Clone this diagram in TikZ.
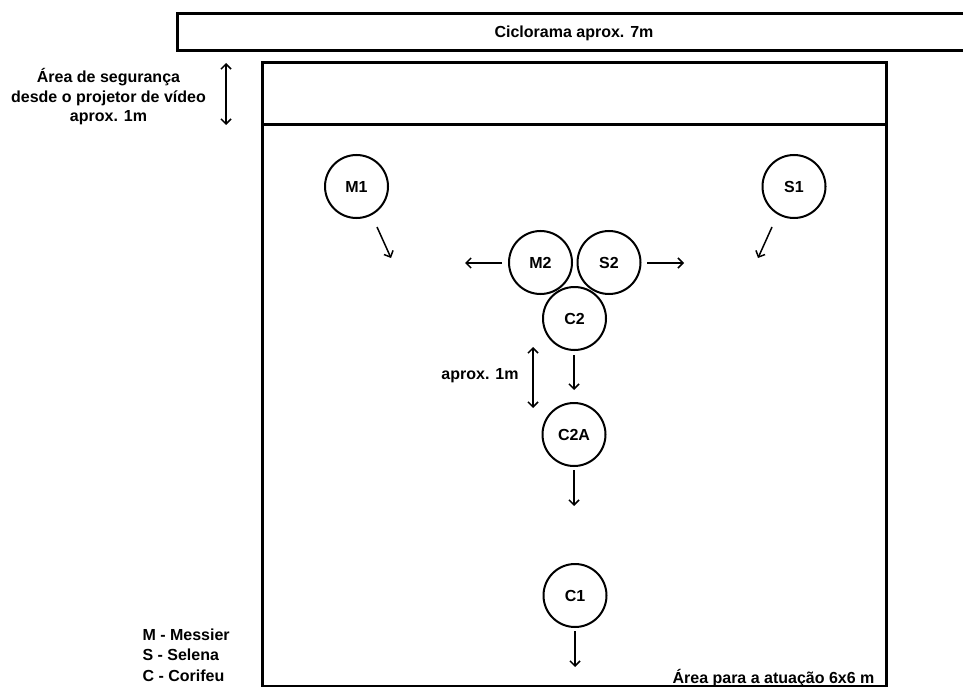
\documentclass[tikz,border=0pt]{standalone}
\usepackage{fontspec}
\setmainfont{Liberation Sans}
\usetikzlibrary{arrows.meta}
\begin{document}
\begin{tikzpicture}[x=1pt,y=-1pt,
  every node/.style={font=\fontsize{16}{19.5}\selectfont\bfseries},
  frame/.style={line width=3pt},
  actor/.style={circle,draw,line width=2pt,minimum size=63pt,inner sep=0pt},
  mv/.style={line width=1.5pt,-{Straight Barb[length=5pt,width=10pt]}},
  dim/.style={line width=1.5pt,{Straight Barb[length=5pt,width=10pt]}-{Straight Barb[length=5pt,width=10pt]}}]
\useasboundingbox (0,0) rectangle (963,687);
% ciclorama
\draw[frame] (965,14) -- (177,14) -- (177,51) -- (965,51);
\node (cic) at (574,33) {Ciclorama aprox. 7m};
% stage
\draw[frame] (262,63) rectangle (886,686);
\draw[frame] (262,125) -- (886,125);
\coordinate (sa) at (226,63);
\coordinate (sb) at (226,125);
\draw[dim] (sa) -- (sb);
\node[align=center] (seg) at (108.5,97) {Área de segurança\\desde o projetor de vídeo\\aprox. 1m};
% actors
\node[actor] (M1) at (356.5,186.5) {M1};
\node[actor] (S1) at (794,186.5) {S1};
\node[actor] (M2) at (540.5,262.5) {M2};
\node[actor] (S2) at (609,262.5) {S2};
\node[actor] (C2) at (574.5,318.5) {C2};
\node[actor] (C2A) at (574,434.5) {C2A};
\node[actor] (C1) at (575,595.5) {C1};
% movements
\coordinate (m1a) at (377,227); \coordinate (m1b) at (391,258);
\draw[mv] (m1a) -- (m1b);
\coordinate (s1a) at (772,227); \coordinate (s1b) at (758,258);
\draw[mv] (s1a) -- (s1b);
\coordinate (m2a) at (502,263); \coordinate (m2b) at (465,263);
\draw[mv] (m2a) -- (m2b);
\coordinate (s2a) at (647,263); \coordinate (s2b) at (684,263);
\draw[mv] (s2a) -- (s2b);
\coordinate (c2a) at (574,355); \coordinate (c2b) at (574,390);
\draw[mv] (c2a) -- (c2b);
\coordinate (c2aa) at (574,470); \coordinate (c2ab) at (574,506);
\draw[mv] (c2aa) -- (c2ab);
\coordinate (c1a) at (575,631); \coordinate (c1b) at (575,667);
\draw[mv] (c1a) -- (c1b);
% 1m dimension
\coordinate (da) at (533,347); \coordinate (db) at (533,408);
\draw[dim] (da) -- (db);
\node (d1m) at (480,376) {aprox. 1m};
% labels
\node[anchor=base east] (area) at (878,683) {Área para a atuação 6x6 m};
\node[anchor=west,align=left,font=\fontsize{16}{20.5}\selectfont\bfseries] (leg) at (139,655) {M - Messier\\S - Selena\\C - Corifeu};
\end{tikzpicture}
\end{document}
